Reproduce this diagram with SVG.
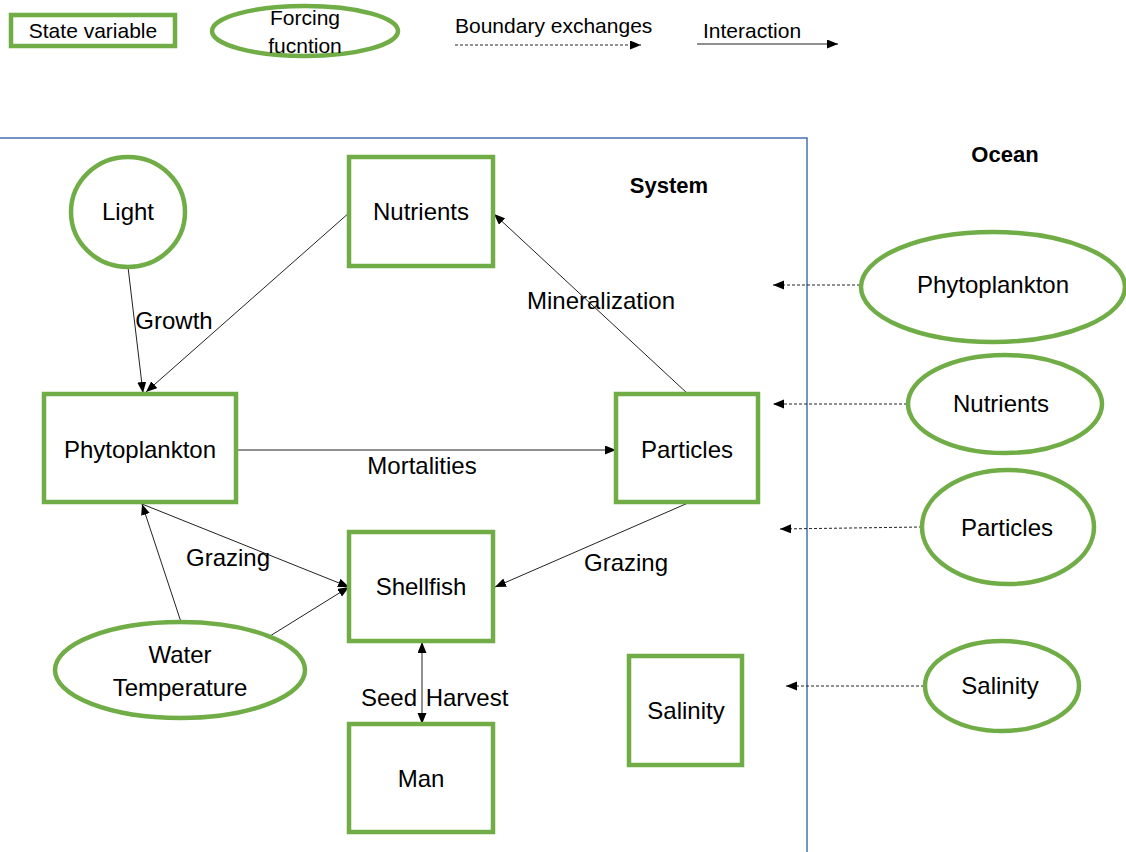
<svg xmlns="http://www.w3.org/2000/svg" width="1126" height="852" viewBox="0 0 1126 852">
<defs>
<marker id="ah" markerUnits="userSpaceOnUse" markerWidth="12" markerHeight="10" refX="11" refY="4.5" orient="auto-start-reverse">
<path d="M0,0 L11,4.5 L0,9 z" fill="#000"/>
</marker>
<style>
.sv{fill:#fff;stroke:#70ad47;stroke-width:4.5}
.ff{fill:#fff;stroke:#70ad47;stroke-width:4.5}
.t{font-family:"Liberation Sans",Arial,sans-serif;font-size:24px;fill:#000;text-anchor:middle}
.lg{font-family:"Liberation Sans",Arial,sans-serif;font-size:21px;fill:#000}
.b{font-family:"Liberation Sans",Arial,sans-serif;font-size:22px;font-weight:bold;fill:#000;text-anchor:middle}
.c{stroke:#222;stroke-width:1;fill:none;marker-end:url(#ah)}
.d{stroke:#222;stroke-width:1;fill:none;stroke-dasharray:3 2;marker-end:url(#ah)}
</style>
</defs>
<rect width="1126" height="852" fill="#fff"/>

<g id="legend">
<rect class="sv" x="11" y="15" width="164" height="31"/>
<text class="lg" x="93" y="38" text-anchor="middle">State variable</text>
<ellipse class="ff" cx="305" cy="31" rx="93" ry="25"/>
<text class="lg" x="305" y="25" text-anchor="middle">Forcing</text>
<text class="lg" x="305" y="53" text-anchor="middle">fucntion</text>
<text class="lg" x="455" y="33">Boundary exchanges</text>
<line class="d" x1="455" y1="45" x2="641" y2="45"/>
<text class="lg" x="703" y="38">Interaction</text>
<line class="c" x1="697" y1="44" x2="838" y2="44"/>
</g>

<g id="system-boundary">
<path d="M0,138 L807,138 L807,852" fill="none" stroke="#4a72b0" stroke-width="1.5"/>
<text class="b" x="669" y="193">System</text>
<text class="b" x="1005" y="162">Ocean</text>
</g>

<g id="connectors">
<line class="c" x1="128" y1="267" x2="143" y2="393"/>
<line class="c" x1="350" y1="212" x2="146" y2="392"/>
<line class="c" x1="688" y1="394" x2="494" y2="214"/>
<line class="c" x1="237" y1="450" x2="616" y2="450"/>
<line class="c" x1="688" y1="503" x2="495" y2="587"/>
<line class="c" x1="142" y1="504" x2="349" y2="587"/>
<line class="c" x1="181" y1="622" x2="142" y2="504"/>
<line class="c" x1="270" y1="636" x2="349" y2="587"/>
<line class="c" x1="422" y1="642" x2="422" y2="724" style="marker-start:url(#ah)"/>
<line class="d" x1="860" y1="285" x2="773" y2="285"/>
<line class="d" x1="907" y1="404" x2="773" y2="404"/>
<line class="d" x1="922" y1="527" x2="780" y2="529"/>
<line class="d" x1="924" y1="686" x2="786" y2="686"/>
<text class="t" x="174" y="329">Growth</text>
<text class="t" x="601" y="309">Mineralization</text>
<text class="t" x="422" y="474">Mortalities</text>
<text class="t" x="228" y="566">Grazing</text>
<text class="t" x="626" y="571">Grazing</text>
<text class="t" x="389" y="706">Seed</text>
<text class="t" x="467" y="706">Harvest</text>
</g>

<g id="light">
<ellipse class="ff" cx="128" cy="212" rx="57" ry="55"/>
<text class="t" x="128" y="220">Light</text>
</g>
<g id="nutrients">
<rect class="sv" x="349" y="157" width="144" height="109"/>
<text class="t" x="421" y="220">Nutrients</text>
</g>
<g id="phytoplankton">
<rect class="sv" x="44" y="394" width="192" height="108"/>
<text class="t" x="140" y="458">Phytoplankton</text>
</g>
<g id="particles">
<rect class="sv" x="616" y="394" width="142" height="108"/>
<text class="t" x="687" y="458">Particles</text>
</g>
<g id="shellfish">
<rect class="sv" x="349" y="532" width="144" height="109"/>
<text class="t" x="421" y="595">Shellfish</text>
</g>
<g id="man">
<rect class="sv" x="349" y="724" width="144" height="108"/>
<text class="t" x="421" y="787">Man</text>
</g>
<g id="salinity">
<rect class="sv" x="629" y="656" width="113" height="109"/>
<text class="t" x="686" y="719">Salinity</text>
</g>
<g id="water-temperature">
<ellipse class="ff" cx="180" cy="670" rx="125" ry="48"/>
<text class="t" x="180" y="663">Water</text>
<text class="t" x="180" y="696">Temperature</text>
</g>
<g id="ocean-phytoplankton">
<ellipse class="ff" cx="993" cy="287" rx="132" ry="55"/>
<text class="t" x="993" y="293">Phytoplankton</text>
</g>
<g id="ocean-nutrients">
<ellipse class="ff" cx="1005" cy="404" rx="97" ry="49"/>
<text class="t" x="1001" y="412">Nutrients</text>
</g>
<g id="ocean-particles">
<ellipse class="ff" cx="1008" cy="527" rx="86" ry="57"/>
<text class="t" x="1007" y="536">Particles</text>
</g>
<g id="ocean-salinity">
<ellipse class="ff" cx="1002" cy="686" rx="77" ry="45"/>
<text class="t" x="1000" y="694">Salinity</text>
</g>
</svg>
